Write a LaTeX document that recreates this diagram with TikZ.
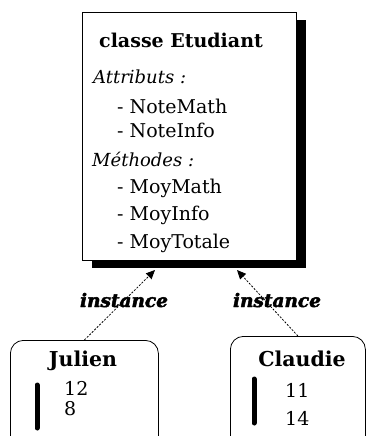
\documentclass[tikz,border=0pt]{standalone}
\usepackage{fontspec}
\setmainfont{DejaVu Serif}
\newfontfamily\instfont[FakeBold=2.5]{DejaVu Serif Bold Italic}
\usetikzlibrary{arrows.meta}
\tikzset{
  txt/.style={inner sep=0pt, anchor=base west, font=\fontsize{19}{21}\selectfont},
  ttl/.style={inner sep=0pt, anchor=base west, font=\bfseries\fontsize{19}{22}\selectfont},
  itl/.style={inner sep=0pt, anchor=base west, font=\itshape\fontsize{18}{20}\selectfont},
  inst/.style={inner sep=0pt, anchor=base, font=\instfont\fontsize{18.5}{20}\selectfont},
  objbox/.style={draw, line width=0.8pt, rounded corners=13pt, anchor=north west, inner sep=0pt},
  objname/.style={inner sep=0pt, anchor=base, font=\bfseries\fontsize{20.5}{22}\selectfont},
  num/.style={inner sep=0pt, anchor=base west, font=\fontsize{19}{21}\selectfont},
  bar/.style={line width=5pt, line cap=round},
  instarrow/.style={dash pattern=on 2pt off 1.5pt, line width=0.8pt, -{Triangle[length=9pt,width=8pt]}}
}
\begin{document}
\begin{tikzpicture}[x=1pt,y=-1pt]
\useasboundingbox (0,0) rectangle (367,436);
\clip (0,0) rectangle (367,436);
% class box with shadow
\fill (92,20) rectangle (306,268);
\node[draw, line width=0.8pt, fill=white, anchor=north west, minimum width=214pt, minimum height=248pt, inner sep=0pt] (cls) at (82,12) {};
\node[ttl] (title) at (99,48) {classe Etudiant};
\node[itl] (attr) at (93,83) {Attributs :};
\node[txt] (a1) at (117,113) {- NoteMath};
\node[txt] (a2) at (117,137) {- NoteInfo};
\node[itl] (meth) at (92,166) {Méthodes :};
\node[txt] (m1) at (117,193) {- MoyMath};
\node[txt] (m2) at (117,220) {- MoyInfo};
\node[txt] (m3) at (117,248) {- MoyTotale};
% object boxes
\node[objbox, minimum width=148pt, minimum height=110pt] (jul) at (10,340) {};
\node[objbox, minimum width=135pt, minimum height=114pt] (cla) at (230,336) {};
\node[objname] (julname) at (83,366) {Julien};
\node[objname] (claname) at (302,366) {Claudie};
\node[num] (j1) at (64,395) {12};
\node[num] (j2) at (64,415) {8};
\node[num] (c1) at (285,397) {11};
\node[num] (c2) at (285,425) {14};
\coordinate (jb1) at (37,385); \coordinate (jb2) at (37,428);
\coordinate (cb1) at (254,379); \coordinate (cb2) at (254,423);
\draw[bar] (jb1) -- (jb2);
\draw[bar] (cb1) -- (cb2);
% instance arrows
\coordinate (tipL) at (155,270);
\coordinate (tipR) at (237,270);
\draw[instarrow] (jul.north) -- (tipL);
\draw[instarrow] (cla.north) -- (tipR);
\node[inst] (instL) at (124,307) {instance};
\node[inst] (instR) at (277,307) {instance};
\end{tikzpicture}
\end{document}
